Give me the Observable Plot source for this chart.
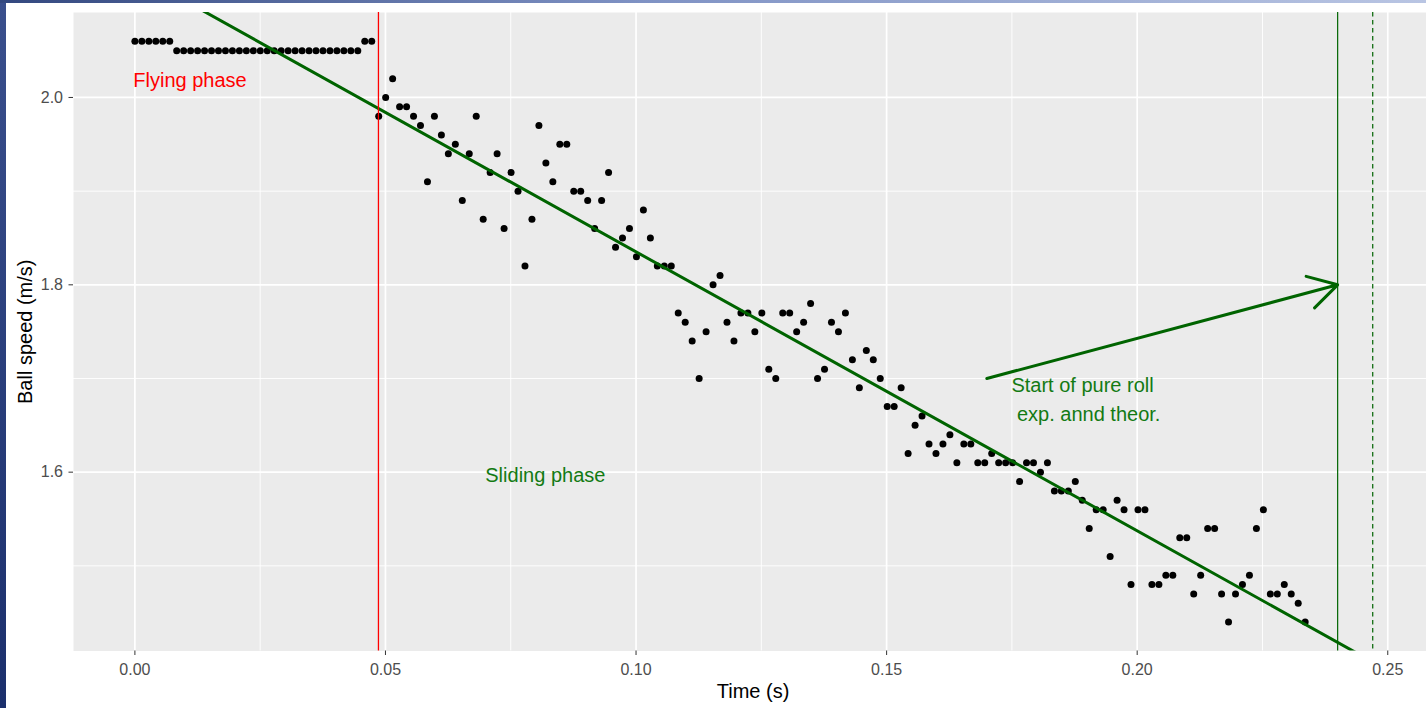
<!DOCTYPE html>
<html>
<head>
<meta charset="utf-8">
<script src="https://cdn.jsdelivr.net/npm/d3@7"></script>
<script src="https://cdn.jsdelivr.net/npm/@observablehq/plot@0.6"></script>
<style>
  html, body { margin: 0; padding: 0; background: #ffffff; overflow: hidden; }
  #wrap { position: relative; width: 1426px; height: 708px; }
  #chart svg { display: block; }
  #leftbar { position: absolute; left: 0; top: 0; width: 6px; height: 708px;
             background: linear-gradient(#3a4f8c, #1b2f6c); }
  #topbar { position: absolute; left: 0; top: 0; width: 1426px; height: 3px;
            background: linear-gradient(to right, #33487f, #7f92c4 45%, #b9c5e3); }
</style>
</head>
<body>
<div id="wrap"><div id="chart"></div><div id="leftbar"></div><div id="topbar"></div></div>
<script>
// ---- data (time in ms, ball speed in m/s) ----
const timeMs = [
  0, 1.39, 2.78, 4.17, 5.56, 6.95, 8.34, 9.73, 11.12, 12.51,
  13.9, 15.29, 16.68, 18.07, 19.46, 20.85, 22.24, 23.63, 25.02, 26.41,
  27.8, 29.19, 30.58, 31.97, 33.36, 34.75, 36.14, 37.53, 38.92, 40.31,
  41.7, 43.09, 44.48, 45.87, 47.26, 48.65, 50.04, 51.43, 52.82, 54.21,
  55.6, 56.99, 58.38, 59.77, 61.16, 62.55, 63.94, 65.33, 66.72, 68.11,
  69.5, 70.89, 72.28, 73.67, 75.06, 76.45, 77.84, 79.23, 80.62, 82.01,
  83.4, 84.79, 86.18, 87.57, 88.96, 90.35, 91.74, 93.13, 94.52, 95.91,
  97.3, 98.69, 100.08, 101.47, 102.86, 104.25, 105.64, 107.03, 108.42, 109.81,
  111.2, 112.59, 113.98, 115.37, 116.76, 118.15, 119.54, 120.93, 122.32, 123.71,
  125.1, 126.49, 127.88, 129.27, 130.66, 132.05, 133.44, 134.83, 136.22, 137.61,
  139, 140.39, 141.78, 143.17, 144.56, 145.95, 147.34, 148.73, 150.12, 151.51,
  152.9, 154.29, 155.68, 157.07, 158.46, 159.85, 161.24, 162.63, 164.02, 165.41,
  166.8, 168.19, 169.58, 170.97, 172.36, 173.75, 175.14, 176.53, 177.92, 179.31,
  180.7, 182.09, 183.48, 184.87, 186.26, 187.65, 189.04, 190.43, 191.82, 193.21,
  194.6, 195.99, 197.38, 198.77, 200.16, 201.55, 202.94, 204.33, 205.72, 207.11,
  208.5, 209.89, 211.28, 212.67, 214.06, 215.45, 216.84, 218.23, 219.62, 221.01,
  222.4, 223.79, 225.18, 226.57, 227.96, 229.35, 230.74, 232.13, 233.52
];
const speed = [
  2.06, 2.06, 2.06, 2.06, 2.06, 2.06, 2.05, 2.05, 2.05, 2.05,
  2.05, 2.05, 2.05, 2.05, 2.05, 2.05, 2.05, 2.05, 2.05, 2.05,
  2.05, 2.05, 2.05, 2.05, 2.05, 2.05, 2.05, 2.05, 2.05, 2.05,
  2.05, 2.05, 2.05, 2.06, 2.06, 1.98, 2.00, 2.02, 1.99, 1.99,
  1.98, 1.97, 1.91, 1.98, 1.96, 1.94, 1.95, 1.89, 1.94, 1.98,
  1.87, 1.92, 1.94, 1.86, 1.92, 1.90, 1.82, 1.87, 1.97, 1.93,
  1.91, 1.95, 1.95, 1.90, 1.90, 1.89, 1.86, 1.89, 1.92, 1.84,
  1.85, 1.86, 1.83, 1.88, 1.85, 1.82, 1.82, 1.82, 1.77, 1.76,
  1.74, 1.70, 1.75, 1.80, 1.81, 1.76, 1.74, 1.77, 1.77, 1.75,
  1.77, 1.71, 1.70, 1.77, 1.77, 1.75, 1.76, 1.78, 1.70, 1.71,
  1.76, 1.75, 1.77, 1.72, 1.69, 1.73, 1.72, 1.70, 1.67, 1.67,
  1.69, 1.62, 1.65, 1.66, 1.63, 1.62, 1.63, 1.64, 1.61, 1.63,
  1.63, 1.61, 1.61, 1.62, 1.61, 1.61, 1.61, 1.59, 1.61, 1.61,
  1.60, 1.61, 1.58, 1.58, 1.58, 1.59, 1.57, 1.54, 1.56, 1.56,
  1.51, 1.57, 1.56, 1.48, 1.56, 1.56, 1.48, 1.48, 1.49, 1.49,
  1.53, 1.53, 1.47, 1.49, 1.54, 1.54, 1.47, 1.44, 1.47, 1.48,
  1.49, 1.54, 1.56, 1.47, 1.47, 1.48, 1.47, 1.46, 1.44
];
// fitted sliding line: v = intercept + slope * t
const fitIntercept = 2.133;
const fitSlope = -2.978;
// event times (s)
const flyingEnd = 0.0486;
const pureRollExp = 0.240;
const pureRollTheor = 0.247;
// arrow
const arrowFrom = {t: 0.170, v: 1.700};
const arrowTo = {t: 0.240, v: 1.800};
// ticks
const xMajor = [0, 0.05, 0.10, 0.15, 0.20, 0.25];
const xMinor = [0.025, 0.075, 0.125, 0.175, 0.225];
const yMajor = [1.6, 1.8, 2.0];
const yMinor = [1.5, 1.7, 1.9];
// annotations
const phaseLabels = [
  {t: 0.0110, v: 2.0175, text: "Flying phase", color: "#ff0000"},
  {t: 0.0819, v: 1.5965, text: "Sliding phase", color: "#137a13"}
];
const rollLabel = [
  {t: 0.1749, v: 1.6797, text: "Start of pure roll\n\u00a0exp. annd theor.", color: "#137a13"}
];
const xDomain = [-0.01225, 0.25773];
const yDomain = [1.4091, 2.0907];

const n = Math.min(timeMs.length, speed.length);
const points = [];
for (let i = 0; i < n; i++) points.push({t: timeMs[i] / 1000, v: speed[i]});
const fitLine = xDomain.map(t => ({t, v: fitIntercept + fitSlope * t}));

const font = "'Liberation Sans', Arial, Helvetica, sans-serif";
const chart = Plot.plot({
  width: 1426,
  height: 708,
  marginLeft: 73,
  marginTop: 12,
  marginRight: 0,
  marginBottom: 57.5,
  x: {domain: xDomain},
  y: {domain: yDomain},
  style: {fontFamily: font, background: "transparent", overflow: "visible"},
  marks: [
    Plot.frame({fill: "#ebebeb", stroke: null}),
    Plot.gridX(xMinor, {stroke: "#ffffff", strokeOpacity: 1, strokeWidth: 0.9}),
    Plot.gridY(yMinor, {stroke: "#ffffff", strokeOpacity: 1, strokeWidth: 0.9}),
    Plot.gridX(xMajor, {stroke: "#ffffff", strokeOpacity: 1, strokeWidth: 1.7}),
    Plot.gridY(yMajor, {stroke: "#ffffff", strokeOpacity: 1, strokeWidth: 1.7}),
    Plot.axisX({ticks: xMajor, tickFormat: d => d.toFixed(2), tickSize: 4.5, tickPadding: 8.3,
                fontSize: 16, stroke: "#333333", fill: "#4d4d4d", label: null}),
    Plot.axisY({ticks: yMajor, tickFormat: d => d.toFixed(1), tickSize: 4.5, tickPadding: 6,
                fontSize: 16, stroke: "#333333", fill: "#4d4d4d", label: null}),
    Plot.dot(points, {x: "t", y: "v", r: 3.5, fill: "#000000", stroke: null}),
    Plot.line(fitLine, {x: "t", y: "v", stroke: "#006400", strokeWidth: 3, clip: true}),
    Plot.ruleX([flyingEnd], {stroke: "#ff0000", strokeWidth: 1.3}),
    Plot.ruleX([pureRollExp], {stroke: "#006400", strokeWidth: 1.2}),
    Plot.ruleX([pureRollTheor], {stroke: "#006400", strokeWidth: 1.2, strokeDasharray: "4.5,3.5"}),
    Plot.arrow([{from: arrowFrom, to: arrowTo}], {
      x1: d => d.from.t, y1: d => d.from.v, x2: d => d.to.t, y2: d => d.to.v,
      stroke: "#006400", strokeWidth: 3, headLength: 16.3, headAngle: 60
    }),
    Plot.text(phaseLabels, {x: "t", y: "v", text: "text", fill: "color", textAnchor: "middle",
                            lineAnchor: "middle", fontSize: 20}),
    Plot.text(rollLabel, {x: "t", y: "v", text: "text", fill: "color", textAnchor: "start",
                          lineAnchor: "middle", fontSize: 20, lineHeight: 1.42}),
    Plot.text(["Time (s)"], {frameAnchor: "bottom", dy: 40.4, dx: 3, textAnchor: "middle",
                             lineAnchor: "middle", fontSize: 20, fill: "#000000"}),
    Plot.text(["Ball speed (m/s)"], {frameAnchor: "left", rotate: -90, dx: -47.7, textAnchor: "middle",
                                     lineAnchor: "middle", fontSize: 20, fill: "#000000"})
  ]
});
document.getElementById("chart").appendChild(chart);
</script>
</body>
</html>
